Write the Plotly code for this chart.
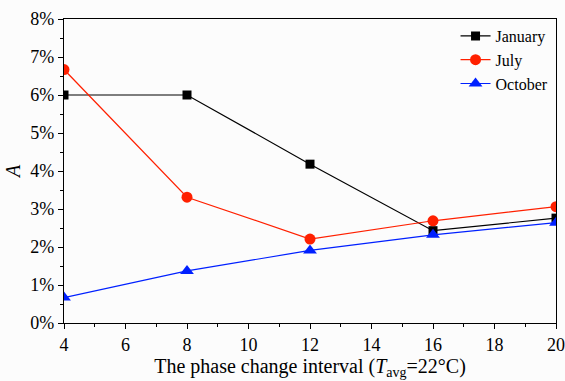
import plotly.graph_objects as go

intervals = [4, 8, 12, 16, 20]
january = [6.0, 6.0, 4.18, 2.43, 2.76]
july = [6.67, 3.31, 2.21, 2.69, 3.06]
october = [0.67, 1.37, 1.91, 2.32, 2.64]

series = [
    ("January", january, "black", "square", 9),
    ("July", july, "#ff2000", "circle", 11),
    ("October", october, "#0020ff", "triangle-up", 12),
]

fig = go.Figure()
for name, vals, color, sym, size in series:
    fig.add_trace(go.Scatter(
        x=intervals, y=vals, name=name, mode="lines+markers",
        line=dict(color=color, width=1.2),
        marker=dict(symbol=sym, size=size, color=color),
    ))

font = "Liberation Serif"
axis_common = dict(
    showline=True, linecolor="black", linewidth=1.2, mirror=True,
    ticks="outside", ticklen=5, tickcolor="black", tickwidth=1,
    showgrid=False, zeroline=False, automargin=False,
    tickfont=dict(family=font, size=18, color="black"),
    ticklabeloverflow="allow",
    minor=dict(ticks="outside", ticklen=3, tickcolor="black", tickwidth=1),
)

fig.update_layout(
    width=565, height=381,
    margin=dict(l=64, r=9, t=19, b=58),
    paper_bgcolor="#fcfcfc", plot_bgcolor="#fcfcfc",
    font=dict(family=font, color="black"),
    xaxis=dict(range=[4, 20], dtick=2, tick0=4,
               title=dict(text="The phase change interval (<i>T</i><sub>avg</sub>=22°C)",
                          font=dict(family=font, size=20), standoff=2),
               **axis_common),
    yaxis=dict(range=[0, 8], dtick=1, ticksuffix="%",
               title=dict(text="<i>A</i>", font=dict(family=font, size=20), standoff=4),
               **axis_common),
    legend=dict(x=0.995, y=1.0, xanchor="right", yanchor="top",
                bgcolor="rgba(0,0,0,0)", font=dict(family=font, size=16),
                tracegroupgap=0, itemwidth=30),
    showlegend=True,
)
fig.update_xaxes(minor=dict(dtick=1))
fig.update_yaxes(minor=dict(dtick=0.5))

fig.write_html("out.html", config={"displayModeBar": False},
               post_script="document.body.style.margin='0';document.body.style.background='#fcfcfc';")
